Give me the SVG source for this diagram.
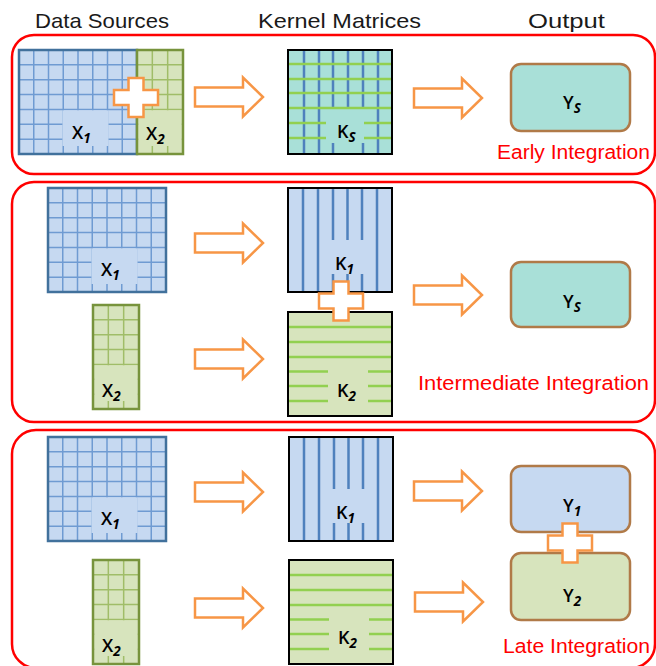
<svg xmlns="http://www.w3.org/2000/svg" xmlns:xlink="http://www.w3.org/1999/xlink" width="656" height="666" viewBox="0 0 656 666">
<style>
.panel{fill:none;stroke:#ff0000;stroke-width:2.5}
.hdr{font-family:"Liberation Sans",Arial,sans-serif;font-size:21px;fill:#1a1a1a}
.cap{font-family:"Liberation Sans",Arial,sans-serif;font-size:20px;fill:#ff0000;text-anchor:end}
.lbl{font-family:"Open Sans","Liberation Sans",Arial,sans-serif;font-size:18px;font-weight:600;fill:#000}
.sub{font-size:13.5px;font-style:italic;font-weight:700}
.arrow{fill:#fff;stroke:#f79646;stroke-width:2.5;stroke-linejoin:miter}
.plus{fill:#fff;stroke:#f79646;stroke-width:2.5}
.out{stroke:#b07a48;stroke-width:2.5}
.kb{fill:none;stroke:#000;stroke-width:2}
.bl{stroke:#4f81bd;stroke-width:2.5;fill:none}
.gl{stroke:#92d050;stroke-width:2.5;fill:none}
</style>
<defs>
<g id="mx1">
<rect x="0" y="0" width="118" height="104" fill="#c6d9f1"/>
<path d="M14.75,0V104M29.5,0V104M44.25,0V104M59,0V104M73.75,0V104M88.5,0V104M103.25,0V104M0,14.86H118M0,29.71H118M0,44.57H118M0,59.43H118M0,74.29H118M0,89.14H118" stroke="#6f9bd2" stroke-width="1.5" fill="none"/>
<rect x="43.5" y="60.3" width="46" height="35.7" fill="#c6d9f1"/>
<rect x="0" y="0" width="118" height="104" fill="none" stroke="#41719c" stroke-width="2.5"/>
</g>
<g id="mx2">
<rect x="0" y="0" width="46" height="104" fill="#d7e4bd"/>
<path d="M15.33,0V104M30.67,0V104M0,14.86H46M0,29.71H46M0,44.57H46M0,59.43H46M0,74.29H46M0,89.14H46" stroke="#a0bd68" stroke-width="1.5" fill="none"/>
<rect x="1.25" y="60.3" width="43.5" height="35.7" fill="#d7e4bd"/>
<rect x="0" y="0" width="46" height="104" fill="none" stroke="#77933c" stroke-width="2.5"/>
</g>
<g id="k1">
<rect x="0" y="0" width="104" height="104" fill="#c6d9f1"/>
<path class="bl" d="M15,0V104M30,0V104M89,0V104M45,0V52M45,86V104M59.5,0V52M59.5,86V104M74,0V52M74,86V104"/>
<rect class="kb" x="0" y="0" width="104" height="104"/>
</g>
<g id="k2">
<rect x="0" y="0" width="104" height="104" fill="#d7e4bd"/>
<path class="gl" d="M0,15H104M0,30H104M0,45H104M0,59.5H40M80,59.5H104M0,74H40M80,74H104M0,89H40M80,89H104"/>
<rect class="kb" x="0" y="0" width="104" height="104"/>
</g>
<g id="ks">
<rect x="0" y="0" width="104" height="104" fill="#a9e0d8"/>
<path class="bl" d="M16,0V104M31,0V104M90,0V104M45,0V59M45,93V104M60,0V59M75,0V59M75,93V104"/>
<path class="gl" d="M0,14H104M0,29H104M0,43H104M0,58H104M0,73H38M76,73H104M0,88H38M76,88H104"/>
<rect class="kb" x="0" y="0" width="104" height="104"/>
</g>
<path id="arr" class="arrow" d="M0,-9.5H48V-19.5L68,0L48,19.5V9.5H0Z"/>
<path id="pls" class="plus" d="M-7.5,-19.5H7.5V-7.5H22V7.5H7.5V19.5H-7.5V7.5H-22V-7.5H-7.5Z"/>
</defs>

<g id="headers">
<text class="hdr" x="35" y="28" textLength="134" lengthAdjust="spacingAndGlyphs">Data Sources</text>
<text class="hdr" x="258" y="28" textLength="163" lengthAdjust="spacingAndGlyphs">Kernel Matrices</text>
<text class="hdr" x="528" y="28" textLength="77" lengthAdjust="spacingAndGlyphs">Output</text>
</g>

<g id="panel-early">
<rect class="panel" x="12" y="35" width="643" height="139" rx="22"/>
<text class="cap" x="650" y="159" textLength="153" lengthAdjust="spacingAndGlyphs">Early Integration</text>
</g>
<g id="panel-intermediate">
<rect class="panel" x="12" y="182" width="643" height="240" rx="22"/>
<text class="cap" x="649" y="390" textLength="231" lengthAdjust="spacingAndGlyphs">Intermediate Integration</text>
</g>
<g id="panel-late">
<rect class="panel" x="12" y="430" width="643" height="238" rx="24"/>
<text class="cap" x="650" y="653" textLength="147" lengthAdjust="spacingAndGlyphs">Late Integration</text>
</g>

<!-- Early integration -->
<g id="early-x1">
<use xlink:href="#mx1" href="#mx1" x="19" y="50"/>
<text class="lbl" x="72" y="139">X<tspan class="sub" dy="4">1</tspan></text>
</g>
<g id="early-x2">
<use xlink:href="#mx2" href="#mx2" x="137" y="50"/>
<text class="lbl" x="146" y="140">X<tspan class="sub" dy="4">2</tspan></text>
</g>
<g id="early-ks">
<use xlink:href="#ks" href="#ks" x="288" y="50"/>
<text class="lbl" x="337" y="138">K<tspan class="sub" dy="4">S</tspan></text>
</g>
<g id="early-ys">
<rect class="out" x="511" y="64" width="119" height="67" rx="10" fill="#a9e0d8"/>
<text class="lbl" x="563" y="109">Y<tspan class="sub" dy="4">S</tspan></text>
</g>

<!-- Intermediate integration -->
<g id="mid-x1">
<use xlink:href="#mx1" href="#mx1" x="48" y="188"/>
<text class="lbl" x="101" y="276">X<tspan class="sub" dy="4">1</tspan></text>
</g>
<g id="mid-x2">
<use xlink:href="#mx2" href="#mx2" x="93" y="305"/>
<text class="lbl" x="102" y="397">X<tspan class="sub" dy="4">2</tspan></text>
</g>
<g id="mid-k1">
<use xlink:href="#k1" href="#k1" x="288" y="188"/>
<text class="lbl" x="335" y="270">K<tspan class="sub" dy="4">1</tspan></text>
</g>
<g id="mid-k2">
<use xlink:href="#k2" href="#k2" x="288" y="312"/>
<text class="lbl" x="337" y="397">K<tspan class="sub" dy="4">2</tspan></text>
</g>
<g id="mid-ys">
<rect class="out" x="511" y="262" width="119" height="65" rx="10" fill="#a9e0d8"/>
<text class="lbl" x="563" y="308">Y<tspan class="sub" dy="4">S</tspan></text>
</g>

<!-- Late integration -->
<g id="late-x1">
<use xlink:href="#mx1" href="#mx1" x="48" y="437"/>
<text class="lbl" x="101" y="525">X<tspan class="sub" dy="4">1</tspan></text>
</g>
<g id="late-x2">
<use xlink:href="#mx2" href="#mx2" x="93" y="560"/>
<text class="lbl" x="102" y="652">X<tspan class="sub" dy="4">2</tspan></text>
</g>
<g id="late-k1">
<use xlink:href="#k1" href="#k1" x="289" y="437"/>
<text class="lbl" x="336" y="519">K<tspan class="sub" dy="4">1</tspan></text>
</g>
<g id="late-k2">
<use xlink:href="#k2" href="#k2" x="289" y="560"/>
<text class="lbl" x="338" y="644">K<tspan class="sub" dy="4">2</tspan></text>
</g>
<g id="late-y1">
<rect class="out" x="511" y="466" width="119" height="66" rx="10" fill="#c6d9f1"/>
<text class="lbl" x="563" y="512">Y<tspan class="sub" dy="4">1</tspan></text>
</g>
<g id="late-y2">
<rect class="out" x="511" y="553" width="119" height="67" rx="10" fill="#d7e4bd"/>
<text class="lbl" x="563" y="602">Y<tspan class="sub" dy="4">2</tspan></text>
</g>

<g id="connectors">
<use xlink:href="#arr" href="#arr" x="195" y="97"/>
<use xlink:href="#arr" href="#arr" x="414" y="98"/>
<use xlink:href="#arr" href="#arr" x="195" y="243"/>
<use xlink:href="#arr" href="#arr" x="195" y="359"/>
<use xlink:href="#arr" href="#arr" x="414" y="295"/>
<use xlink:href="#arr" href="#arr" x="195" y="492"/>
<use xlink:href="#arr" href="#arr" x="195" y="608"/>
<use xlink:href="#arr" href="#arr" x="414" y="491"/>
<use xlink:href="#arr" href="#arr" x="415" y="602"/>
<use xlink:href="#pls" href="#pls" x="136" y="97.5"/>
<use xlink:href="#pls" href="#pls" x="341" y="301"/>
<use xlink:href="#pls" href="#pls" x="570" y="543"/>
</g>
</svg>
